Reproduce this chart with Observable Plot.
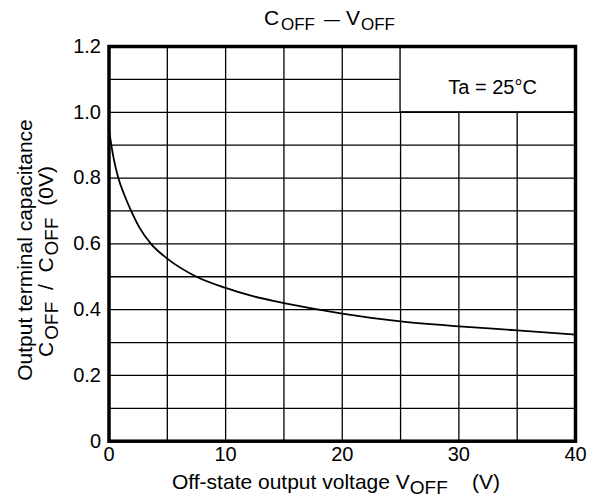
<!DOCTYPE html>
<html><head><meta charset="utf-8">
<script src="https://cdn.jsdelivr.net/npm/d3@7"></script>
<script src="https://cdn.jsdelivr.net/npm/@observablehq/plot@0.6"></script>
<style>body{margin:0;background:#fff} svg{display:block}</style>
</head><body><div id="chart"></div>
<script>
// Off-state output voltage V_OFF (V)
const vOff = [0, 0.2, 0.4, 0.8, 1.3, 1.9, 2.6, 3.6, 5, 7.5, 10, 12.1, 14.6, 18, 20, 25, 30, 35, 40];
// C_OFF / C_OFF(0V)
const cRatio = [0.95, 0.90, 0.86, 0.80, 0.75, 0.70, 0.65, 0.60, 0.555, 0.50, 0.466, 0.443, 0.423, 0.40, 0.388, 0.364, 0.349, 0.337, 0.324];

const xGrid = [0, 5, 10, 15, 20, 25, 30, 35, 40];
const yGrid = [0, 0.1, 0.2, 0.3, 0.4, 0.5, 0.6, 0.7, 0.8, 0.9, 1.0, 1.1, 1.2];
const xTicks = [0, 10, 20, 30, 40];
const yTicks = [0, 0.2, 0.4, 0.6, 0.8, 1.0, 1.2];
const yTickLabels = ["0", "0.2", "0.4", "0.6", "0.8", "1.0", "1.2"];
const noteLabel = ["Ta = 25°C"];
const noteX = [25, 40];
const noteY = [1.0, 1.2];

const data = vOff.map((v, i) => ({v, c: cRatio[i]}));
const note = [{x1: noteX[0], x2: noteX[1], y1: noteY[0], y2: noteY[1], label: noteLabel[0]}];
const ff = "'Liberation Sans', Arial, Helvetica, sans-serif";

const chart = Plot.plot({
  width: 595, height: 502,
  marginLeft: 108.5, marginRight: 20, marginTop: 46, marginBottom: 61.3,
  style: {fontFamily: ff, fontSize: "20px", background: "white", color: "black", overflow: "visible"},
  x: {domain: [0, 40], ticks: xTicks, tickSize: 0, tickPadding: 6, label: null, tickFormat: d => String(d)},
  y: {domain: [0, 1.2], ticks: yTicks, tickSize: 0, tickPadding: 8, label: null,
      tickFormat: d => yTickLabels[yTicks.findIndex(t => Math.abs(t - d) < 1e-9)]},
  marks: [
    Plot.ruleX(xGrid, {y1: 0, y2: 1.2, stroke: "black", strokeWidth: 1.3}),
    Plot.ruleY(yGrid, {x1: 0, x2: 40, stroke: "black", strokeWidth: 1.3}),
    Plot.rect(note, {x1: "x1", x2: "x2", y1: "y1", y2: "y2", fill: "white", stroke: "black", strokeWidth: 1.3}),
    Plot.text(note, {x: d => (d.x1 + d.x2) / 2, y: d => (d.y1 + d.y2) / 2, text: "label", fontSize: 20, dx: 4.5, dy: 8, fill: "black"}),
    Plot.line(data, {x: "v", y: "c", curve: "monotone-x", stroke: "black", strokeWidth: 1.8}),
    Plot.frame({stroke: "black", strokeWidth: 3.5})
  ]
});
document.getElementById("chart").appendChild(chart);

const svg = d3.select(chart);
// Title: C_OFF — V_OFF
const title = svg.append("text").attr("font-family", ff).attr("fill", "black").attr("text-anchor", "start");
title.append("tspan").attr("x", 264).attr("y", 25).attr("font-size", 21).text("C");
title.append("tspan").attr("x", 281).attr("y", 30).attr("font-size", 17).text("OFF");
title.append("tspan").attr("x", 324).attr("y", 25).attr("font-size", 16).text("—");
title.append("tspan").attr("x", 346).attr("y", 25).attr("font-size", 21).text("V");
title.append("tspan").attr("x", 361).attr("y", 30).attr("font-size", 17).text("OFF");

// Y axis label (two lines)
svg.append("text").attr("font-family", ff).attr("font-size", 21).attr("fill", "black")
  .attr("text-anchor", "middle").attr("transform", "translate(31.5,250) rotate(-90)")
  .text("Output terminal capacitance");
const yl2 = svg.append("text").attr("font-family", ff).attr("font-size", 21).attr("fill", "black")
  .attr("text-anchor", "middle").attr("transform", "translate(53,261.5) rotate(-90)")
  .style("white-space", "pre");
yl2.append("tspan").text("C");
yl2.append("tspan").attr("dx", 2).attr("dy", 5).attr("font-size", 19).text("OFF");
yl2.append("tspan").attr("dy", -5).text("  /  C");
yl2.append("tspan").attr("dx", 2).attr("dy", 5).attr("font-size", 19).text("OFF");
yl2.append("tspan").attr("dy", -5).text("  (0V)");

// X axis label
const xl = svg.append("text").attr("font-family", ff).attr("font-size", 21).attr("fill", "black").attr("text-anchor", "start");
xl.append("tspan").attr("x", 172).attr("y", 489).text("Off-state output voltage V");
xl.append("tspan").attr("y", 494).attr("font-size", 19).text("OFF");
xl.append("tspan").attr("x", 472).attr("y", 489).text("(V)");
</script>
</body></html>
